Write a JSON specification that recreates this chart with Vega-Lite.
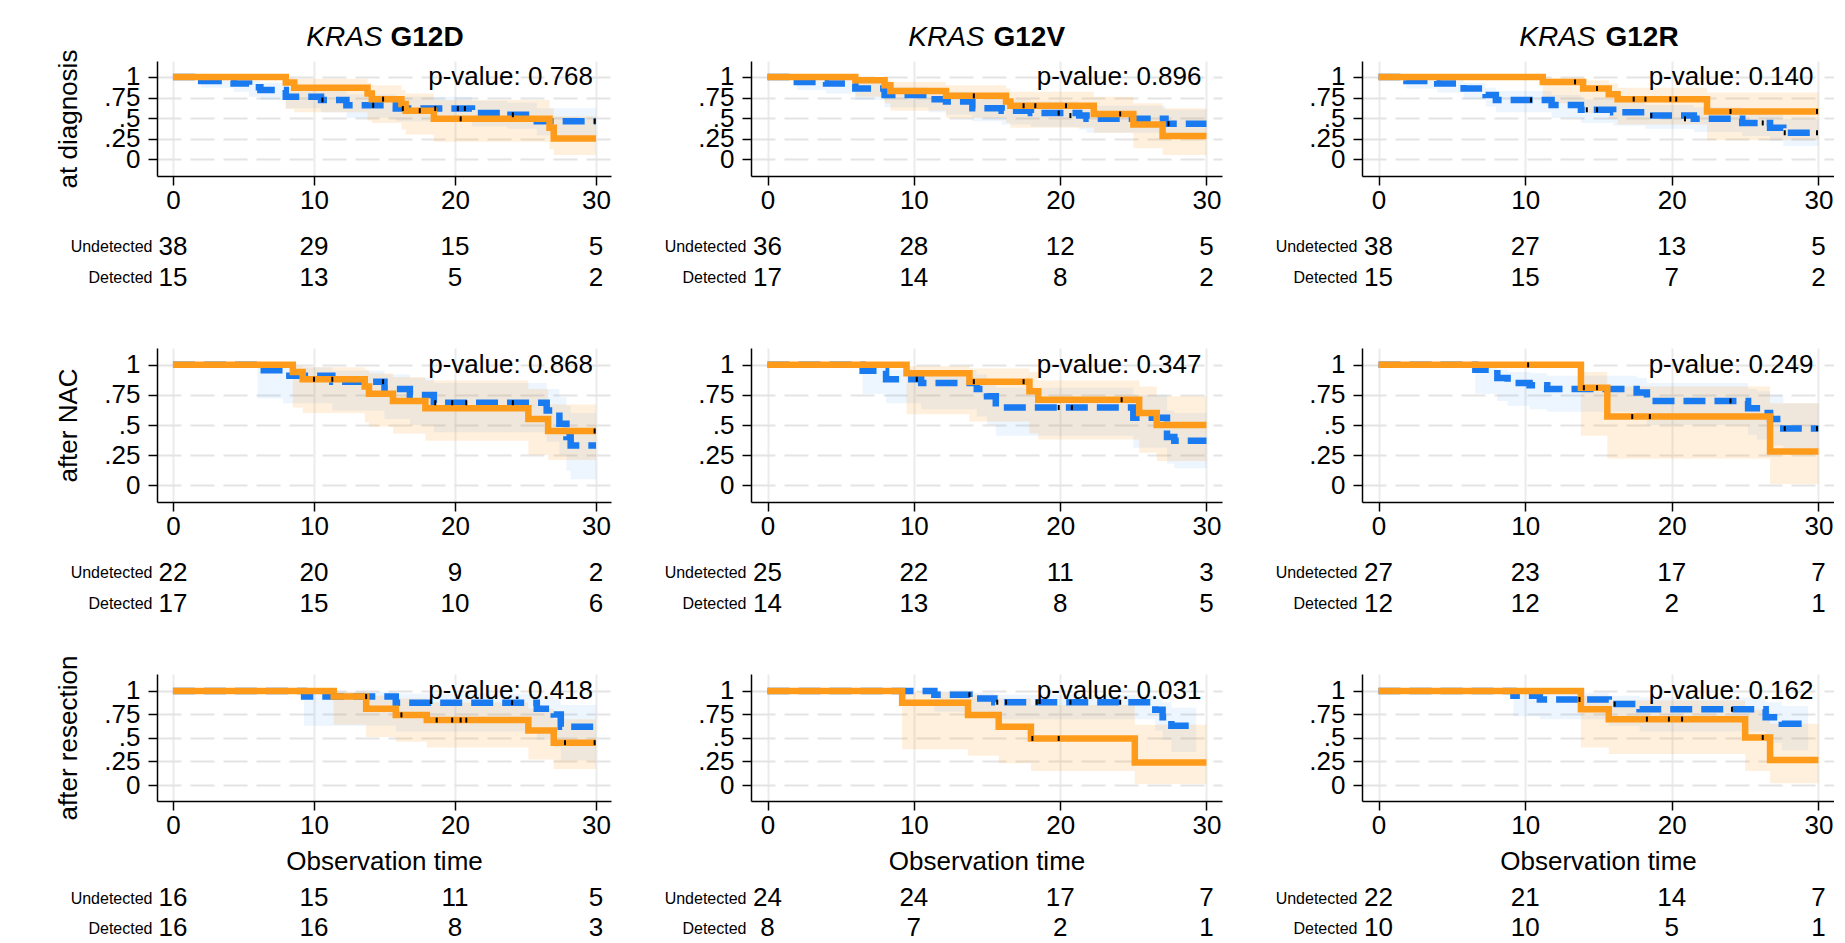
{
"$schema": "https://vega.github.io/schema/vega-lite/v6.json",
"background": "white",
"padding": {"left": 55, "top": 23, "right": 0, "bottom": 0},
"autosize": {"type": "pad"},
"config": {
  "view": {"stroke": null},
  "font": "Liberation Sans",
  "axis": {"labelFontSize": 26, "labelColor": "#000", "titleColor": "#000", "titleFontSize": 26, "titleFontWeight": "normal", "domainColor": "#000", "tickColor": "#000", "domainWidth": 1.5, "tickWidth": 1.5, "tickSize": 9, "labelFont": "Liberation Sans", "titleFont": "Liberation Sans"},
  "axisX": {"gridColor": "#EBEBEB", "gridWidth": 2, "labelPadding": 2, "titlePadding": 10},
  "axisY": {"gridColor": "#E4E4E4", "gridWidth": 2, "gridDash": [24, 9], "labelPadding": 8, "labelOverlap": false, "titlePadding": 22}
},
"datasets": {
"km": [
{"r":"A","c":"D","g":"U","t":0,"s":1,"lo":1,"hi":1},
{"r":"A","c":"D","g":"U","t":2.0,"s":0.95,"lo":0.87,"hi":0.99},
{"r":"A","c":"D","g":"U","t":4.3,"s":0.92,"lo":0.82,"hi":0.97},
{"r":"A","c":"D","g":"U","t":5.4,"s":0.875,"lo":0.76,"hi":0.95},
{"r":"A","c":"D","g":"U","t":6.2,"s":0.84,"lo":0.72,"hi":0.93},
{"r":"A","c":"D","g":"U","t":8.0,"s":0.76,"lo":0.62,"hi":0.87},
{"r":"A","c":"D","g":"U","t":10.5,"s":0.72,"lo":0.57,"hi":0.84},
{"r":"A","c":"D","g":"U","t":12.3,"s":0.655,"lo":0.50,"hi":0.79},
{"r":"A","c":"D","g":"U","t":15.8,"s":0.615,"lo":0.46,"hi":0.76},
{"r":"A","c":"D","g":"U","t":21.2,"s":0.56,"lo":0.40,"hi":0.71},
{"r":"A","c":"D","g":"U","t":23.7,"s":0.54,"lo":0.37,"hi":0.69},
{"r":"A","c":"D","g":"U","t":25.8,"s":0.46,"lo":0.29,"hi":0.62},
{"r":"A","c":"D","g":"U","t":30,"s":0.46,"lo":0.29,"hi":0.62},
{"r":"A","c":"D","g":"D","t":0,"s":1,"lo":1,"hi":1},
{"r":"A","c":"D","g":"D","t":8.0,"s":0.933,"lo":0.61,"hi":0.99},
{"r":"A","c":"D","g":"D","t":8.6,"s":0.87,"lo":0.57,"hi":0.98},
{"r":"A","c":"D","g":"D","t":13.8,"s":0.80,"lo":0.47,"hi":0.93},
{"r":"A","c":"D","g":"D","t":14.1,"s":0.73,"lo":0.44,"hi":0.90},
{"r":"A","c":"D","g":"D","t":16.2,"s":0.67,"lo":0.36,"hi":0.84},
{"r":"A","c":"D","g":"D","t":16.5,"s":0.59,"lo":0.30,"hi":0.80},
{"r":"A","c":"D","g":"D","t":18.5,"s":0.49,"lo":0.21,"hi":0.72},
{"r":"A","c":"D","g":"D","t":26.7,"s":0.38,"lo":0.12,"hi":0.62},
{"r":"A","c":"D","g":"D","t":27.0,"s":0.25,"lo":0.05,"hi":0.52},
{"r":"A","c":"D","g":"D","t":30,"s":0.25,"lo":0.05,"hi":0.52},

{"r":"A","c":"V","g":"U","t":0,"s":1,"lo":1,"hi":1},
{"r":"A","c":"V","g":"U","t":2.0,"s":0.94,"lo":0.84,"hi":0.98},
{"r":"A","c":"V","g":"U","t":4.0,"s":0.92,"lo":0.80,"hi":0.97},
{"r":"A","c":"V","g":"U","t":6.0,"s":0.86,"lo":0.72,"hi":0.93},
{"r":"A","c":"V","g":"U","t":8.0,"s":0.78,"lo":0.63,"hi":0.88},
{"r":"A","c":"V","g":"U","t":11.0,"s":0.73,"lo":0.57,"hi":0.84},
{"r":"A","c":"V","g":"U","t":12.2,"s":0.70,"lo":0.54,"hi":0.82},
{"r":"A","c":"V","g":"U","t":14.0,"s":0.62,"lo":0.46,"hi":0.75},
{"r":"A","c":"V","g":"U","t":16.0,"s":0.59,"lo":0.42,"hi":0.73},
{"r":"A","c":"V","g":"U","t":18.0,"s":0.56,"lo":0.39,"hi":0.70},
{"r":"A","c":"V","g":"U","t":21.3,"s":0.53,"lo":0.36,"hi":0.68},
{"r":"A","c":"V","g":"U","t":21.8,"s":0.49,"lo":0.32,"hi":0.65},
{"r":"A","c":"V","g":"U","t":27.2,"s":0.43,"lo":0.26,"hi":0.60},
{"r":"A","c":"V","g":"U","t":30,"s":0.43,"lo":0.26,"hi":0.60},
{"r":"A","c":"V","g":"D","t":0,"s":1,"lo":1,"hi":1},
{"r":"A","c":"V","g":"D","t":6.0,"s":0.96,"lo":0.76,"hi":0.99},
{"r":"A","c":"V","g":"D","t":8.0,"s":0.90,"lo":0.68,"hi":0.97},
{"r":"A","c":"V","g":"D","t":8.4,"s":0.83,"lo":0.59,"hi":0.94},
{"r":"A","c":"V","g":"D","t":12.2,"s":0.77,"lo":0.50,"hi":0.90},
{"r":"A","c":"V","g":"D","t":16.3,"s":0.70,"lo":0.44,"hi":0.86},
{"r":"A","c":"V","g":"D","t":16.6,"s":0.65,"lo":0.38,"hi":0.82},
{"r":"A","c":"V","g":"D","t":22.3,"s":0.55,"lo":0.32,"hi":0.76},
{"r":"A","c":"V","g":"D","t":25.0,"s":0.42,"lo":0.13,"hi":0.68},
{"r":"A","c":"V","g":"D","t":27.0,"s":0.28,"lo":0.05,"hi":0.62},
{"r":"A","c":"V","g":"D","t":30,"s":0.28,"lo":0.05,"hi":0.62},

{"r":"A","c":"R","g":"U","t":0,"s":1,"lo":1,"hi":1},
{"r":"A","c":"R","g":"U","t":1.9,"s":0.95,"lo":0.86,"hi":0.99},
{"r":"A","c":"R","g":"U","t":4.0,"s":0.92,"lo":0.81,"hi":0.97},
{"r":"A","c":"R","g":"U","t":5.8,"s":0.86,"lo":0.73,"hi":0.93},
{"r":"A","c":"R","g":"U","t":7.3,"s":0.78,"lo":0.64,"hi":0.87},
{"r":"A","c":"R","g":"U","t":8.0,"s":0.72,"lo":0.57,"hi":0.83},
{"r":"A","c":"R","g":"U","t":11.8,"s":0.66,"lo":0.50,"hi":0.78},
{"r":"A","c":"R","g":"U","t":13.8,"s":0.60,"lo":0.44,"hi":0.73},
{"r":"A","c":"R","g":"U","t":16.0,"s":0.57,"lo":0.41,"hi":0.70},
{"r":"A","c":"R","g":"U","t":18.2,"s":0.53,"lo":0.37,"hi":0.66},
{"r":"A","c":"R","g":"U","t":21.5,"s":0.49,"lo":0.33,"hi":0.63},
{"r":"A","c":"R","g":"U","t":24.8,"s":0.44,"lo":0.28,"hi":0.59},
{"r":"A","c":"R","g":"U","t":26.7,"s":0.38,"lo":0.22,"hi":0.54},
{"r":"A","c":"R","g":"U","t":27.6,"s":0.32,"lo":0.16,"hi":0.49},
{"r":"A","c":"R","g":"U","t":30,"s":0.32,"lo":0.16,"hi":0.49},
{"r":"A","c":"R","g":"D","t":0,"s":1,"lo":1,"hi":1},
{"r":"A","c":"R","g":"D","t":11.2,"s":0.94,"lo":0.68,"hi":0.99},
{"r":"A","c":"R","g":"D","t":13.95,"s":0.86,"lo":0.56,"hi":0.96},
{"r":"A","c":"R","g":"D","t":15.7,"s":0.79,"lo":0.49,"hi":0.92},
{"r":"A","c":"R","g":"D","t":16.3,"s":0.73,"lo":0.42,"hi":0.87},
{"r":"A","c":"R","g":"D","t":22.4,"s":0.58,"lo":0.23,"hi":0.81},
{"r":"A","c":"R","g":"D","t":30,"s":0.58,"lo":0.23,"hi":0.81},

{"r":"N","c":"D","g":"U","t":0,"s":1,"lo":1,"hi":1},
{"r":"N","c":"D","g":"U","t":6.0,"s":0.955,"lo":0.72,"hi":0.99},
{"r":"N","c":"D","g":"U","t":7.8,"s":0.91,"lo":0.68,"hi":0.98},
{"r":"N","c":"D","g":"U","t":11.3,"s":0.86,"lo":0.62,"hi":0.95},
{"r":"N","c":"D","g":"U","t":15.0,"s":0.80,"lo":0.55,"hi":0.92},
{"r":"N","c":"D","g":"U","t":16.8,"s":0.75,"lo":0.50,"hi":0.89},
{"r":"N","c":"D","g":"U","t":18.5,"s":0.685,"lo":0.44,"hi":0.85},
{"r":"N","c":"D","g":"U","t":26.5,"s":0.62,"lo":0.36,"hi":0.80},
{"r":"N","c":"D","g":"U","t":27.4,"s":0.51,"lo":0.25,"hi":0.73},
{"r":"N","c":"D","g":"U","t":27.9,"s":0.40,"lo":0.12,"hi":0.66},
{"r":"N","c":"D","g":"U","t":28.2,"s":0.33,"lo":0.05,"hi":0.60},
{"r":"N","c":"D","g":"U","t":30,"s":0.33,"lo":0.05,"hi":0.60},
{"r":"N","c":"D","g":"D","t":0,"s":1,"lo":1,"hi":1},
{"r":"N","c":"D","g":"D","t":8.5,"s":0.94,"lo":0.645,"hi":0.99},
{"r":"N","c":"D","g":"D","t":9.2,"s":0.88,"lo":0.60,"hi":0.98},
{"r":"N","c":"D","g":"D","t":13.6,"s":0.82,"lo":0.52,"hi":0.96},
{"r":"N","c":"D","g":"D","t":13.9,"s":0.76,"lo":0.485,"hi":0.93},
{"r":"N","c":"D","g":"D","t":15.6,"s":0.70,"lo":0.43,"hi":0.90},
{"r":"N","c":"D","g":"D","t":17.9,"s":0.64,"lo":0.37,"hi":0.87},
{"r":"N","c":"D","g":"D","t":25.2,"s":0.55,"lo":0.25,"hi":0.80},
{"r":"N","c":"D","g":"D","t":26.6,"s":0.45,"lo":0.21,"hi":0.67},
{"r":"N","c":"D","g":"D","t":30,"s":0.45,"lo":0.21,"hi":0.67},

{"r":"N","c":"V","g":"U","t":0,"s":1,"lo":1,"hi":1},
{"r":"N","c":"V","g":"U","t":6.5,"s":0.95,"lo":0.76,"hi":0.99},
{"r":"N","c":"V","g":"U","t":8.1,"s":0.88,"lo":0.68,"hi":0.96},
{"r":"N","c":"V","g":"U","t":10.5,"s":0.85,"lo":0.63,"hi":0.95},
{"r":"N","c":"V","g":"U","t":14.3,"s":0.80,"lo":0.57,"hi":0.92},
{"r":"N","c":"V","g":"U","t":15.0,"s":0.74,"lo":0.50,"hi":0.88},
{"r":"N","c":"V","g":"U","t":15.6,"s":0.645,"lo":0.41,"hi":0.81},
{"r":"N","c":"V","g":"U","t":25.0,"s":0.56,"lo":0.31,"hi":0.75},
{"r":"N","c":"V","g":"U","t":27.3,"s":0.40,"lo":0.18,"hi":0.62},
{"r":"N","c":"V","g":"U","t":27.8,"s":0.37,"lo":0.14,"hi":0.60},
{"r":"N","c":"V","g":"U","t":30,"s":0.37,"lo":0.14,"hi":0.60},
{"r":"N","c":"V","g":"D","t":0,"s":1,"lo":1,"hi":1},
{"r":"N","c":"V","g":"D","t":9.5,"s":0.93,"lo":0.59,"hi":0.99},
{"r":"N","c":"V","g":"D","t":13.8,"s":0.86,"lo":0.53,"hi":0.97},
{"r":"N","c":"V","g":"D","t":17.9,"s":0.78,"lo":0.43,"hi":0.94},
{"r":"N","c":"V","g":"D","t":18.5,"s":0.71,"lo":0.38,"hi":0.87},
{"r":"N","c":"V","g":"D","t":25.4,"s":0.60,"lo":0.27,"hi":0.82},
{"r":"N","c":"V","g":"D","t":26.6,"s":0.50,"lo":0.20,"hi":0.74},
{"r":"N","c":"V","g":"D","t":30,"s":0.50,"lo":0.20,"hi":0.74},

{"r":"N","c":"R","g":"U","t":0,"s":1,"lo":1,"hi":1},
{"r":"N","c":"R","g":"U","t":6.6,"s":0.96,"lo":0.76,"hi":0.99},
{"r":"N","c":"R","g":"U","t":8.1,"s":0.89,"lo":0.70,"hi":0.96},
{"r":"N","c":"R","g":"U","t":8.8,"s":0.85,"lo":0.66,"hi":0.94},
{"r":"N","c":"R","g":"U","t":10.3,"s":0.83,"lo":0.63,"hi":0.93},
{"r":"N","c":"R","g":"U","t":11.5,"s":0.80,"lo":0.61,"hi":0.91},
{"r":"N","c":"R","g":"U","t":17.6,"s":0.77,"lo":0.56,"hi":0.89},
{"r":"N","c":"R","g":"U","t":18.3,"s":0.70,"lo":0.50,"hi":0.85},
{"r":"N","c":"R","g":"U","t":25.2,"s":0.64,"lo":0.42,"hi":0.80},
{"r":"N","c":"R","g":"U","t":25.8,"s":0.60,"lo":0.38,"hi":0.78},
{"r":"N","c":"R","g":"U","t":26.7,"s":0.55,"lo":0.33,"hi":0.75},
{"r":"N","c":"R","g":"U","t":27.6,"s":0.47,"lo":0.25,"hi":0.68},
{"r":"N","c":"R","g":"U","t":30,"s":0.47,"lo":0.25,"hi":0.68},
{"r":"N","c":"R","g":"D","t":0,"s":1,"lo":1,"hi":1},
{"r":"N","c":"R","g":"D","t":13.8,"s":0.81,"lo":0.41,"hi":0.94},
{"r":"N","c":"R","g":"D","t":15.6,"s":0.57,"lo":0.22,"hi":0.82},
{"r":"N","c":"R","g":"D","t":26.7,"s":0.28,"lo":0.01,"hi":0.68},
{"r":"N","c":"R","g":"D","t":30,"s":0.28,"lo":0.01,"hi":0.68},

{"r":"R","c":"D","g":"U","t":0,"s":1,"lo":1,"hi":1},
{"r":"R","c":"D","g":"U","t":9.3,"s":0.94,"lo":0.63,"hi":0.99},
{"r":"R","c":"D","g":"U","t":15.8,"s":0.875,"lo":0.57,"hi":0.97},
{"r":"R","c":"D","g":"U","t":25.8,"s":0.81,"lo":0.48,"hi":0.94},
{"r":"R","c":"D","g":"U","t":27.0,"s":0.75,"lo":0.40,"hi":0.91},
{"r":"R","c":"D","g":"U","t":27.5,"s":0.62,"lo":0.26,"hi":0.85},
{"r":"R","c":"D","g":"U","t":30,"s":0.62,"lo":0.26,"hi":0.85},
{"r":"R","c":"D","g":"D","t":0,"s":1,"lo":1,"hi":1},
{"r":"R","c":"D","g":"D","t":11.4,"s":0.94,"lo":0.64,"hi":0.99},
{"r":"R","c":"D","g":"D","t":13.7,"s":0.81,"lo":0.51,"hi":0.95},
{"r":"R","c":"D","g":"D","t":15.8,"s":0.745,"lo":0.46,"hi":0.92},
{"r":"R","c":"D","g":"D","t":18.0,"s":0.69,"lo":0.40,"hi":0.88},
{"r":"R","c":"D","g":"D","t":25.2,"s":0.58,"lo":0.27,"hi":0.81},
{"r":"R","c":"D","g":"D","t":27.0,"s":0.45,"lo":0.17,"hi":0.70},
{"r":"R","c":"D","g":"D","t":30,"s":0.45,"lo":0.17,"hi":0.70},

{"r":"R","c":"V","g":"U","t":0,"s":1,"lo":1,"hi":1},
{"r":"R","c":"V","g":"U","t":11.4,"s":0.96,"lo":0.78,"hi":0.99},
{"r":"R","c":"V","g":"U","t":13.8,"s":0.92,"lo":0.74,"hi":0.98},
{"r":"R","c":"V","g":"U","t":15.5,"s":0.88,"lo":0.70,"hi":0.96},
{"r":"R","c":"V","g":"U","t":26.5,"s":0.80,"lo":0.58,"hi":0.92},
{"r":"R","c":"V","g":"U","t":27.0,"s":0.72,"lo":0.48,"hi":0.88},
{"r":"R","c":"V","g":"U","t":27.6,"s":0.63,"lo":0.35,"hi":0.82},
{"r":"R","c":"V","g":"U","t":29.3,"s":0.63,"lo":0.35,"hi":0.82},
{"r":"R","c":"V","g":"D","t":0,"s":1,"lo":1,"hi":1},
{"r":"R","c":"V","g":"D","t":9.2,"s":0.875,"lo":0.38,"hi":0.99},
{"r":"R","c":"V","g":"D","t":13.7,"s":0.745,"lo":0.31,"hi":0.96},
{"r":"R","c":"V","g":"D","t":15.8,"s":0.62,"lo":0.23,"hi":0.92},
{"r":"R","c":"V","g":"D","t":18.0,"s":0.495,"lo":0.15,"hi":0.85},
{"r":"R","c":"V","g":"D","t":25.1,"s":0.24,"lo":0.01,"hi":0.64},
{"r":"R","c":"V","g":"D","t":30,"s":0.24,"lo":0.01,"hi":0.64},

{"r":"R","c":"R","g":"U","t":0,"s":1,"lo":1,"hi":1},
{"r":"R","c":"R","g":"U","t":9.2,"s":0.95,"lo":0.73,"hi":0.99},
{"r":"R","c":"R","g":"U","t":11.0,"s":0.91,"lo":0.70,"hi":0.98},
{"r":"R","c":"R","g":"U","t":15.7,"s":0.86,"lo":0.63,"hi":0.95},
{"r":"R","c":"R","g":"U","t":17.8,"s":0.805,"lo":0.57,"hi":0.93},
{"r":"R","c":"R","g":"U","t":26.4,"s":0.72,"lo":0.45,"hi":0.88},
{"r":"R","c":"R","g":"U","t":27.5,"s":0.65,"lo":0.37,"hi":0.84},
{"r":"R","c":"R","g":"U","t":29.3,"s":0.65,"lo":0.37,"hi":0.84},
{"r":"R","c":"R","g":"D","t":0,"s":1,"lo":1,"hi":1},
{"r":"R","c":"R","g":"D","t":13.8,"s":0.805,"lo":0.40,"hi":0.95},
{"r":"R","c":"R","g":"D","t":15.7,"s":0.70,"lo":0.33,"hi":0.90},
{"r":"R","c":"R","g":"D","t":25.0,"s":0.505,"lo":0.15,"hi":0.80},
{"r":"R","c":"R","g":"D","t":26.7,"s":0.265,"lo":0.02,"hi":0.65},
{"r":"R","c":"R","g":"D","t":30,"s":0.265,"lo":0.02,"hi":0.65}
],
"cens": [
{"r":"A","c":"D","t":14.9,"s":0.73},{"r":"A","c":"D","t":17.5,"s":0.59},{"r":"A","c":"D","t":20.4,"s":0.49},{"r":"A","c":"D","t":10.6,"s":0.72},{"r":"A","c":"D","t":14.2,"s":0.655},{"r":"A","c":"D","t":16.3,"s":0.615},{"r":"A","c":"D","t":18.6,"s":0.615},{"r":"A","c":"D","t":20.2,"s":0.615},{"r":"A","c":"D","t":20.7,"s":0.615},{"r":"A","c":"D","t":24.1,"s":0.54},{"r":"A","c":"D","t":29.9,"s":0.46},
{"r":"A","c":"V","t":14.1,"s":0.77},{"r":"A","c":"V","t":17.5,"s":0.65},{"r":"A","c":"V","t":18.3,"s":0.65},{"r":"A","c":"V","t":20.4,"s":0.65},{"r":"A","c":"V","t":24.1,"s":0.55},{"r":"A","c":"V","t":19.9,"s":0.56},{"r":"A","c":"V","t":20.7,"s":0.53},{"r":"A","c":"V","t":27.4,"s":0.43},
{"r":"A","c":"R","t":13.4,"s":0.94},{"r":"A","c":"R","t":14.9,"s":0.86},{"r":"A","c":"R","t":17.4,"s":0.73},{"r":"A","c":"R","t":18.2,"s":0.73},{"r":"A","c":"R","t":19.9,"s":0.73},{"r":"A","c":"R","t":20.3,"s":0.73},{"r":"A","c":"R","t":24.0,"s":0.58},{"r":"A","c":"R","t":29.9,"s":0.58},{"r":"A","c":"R","t":10.4,"s":0.72},{"r":"A","c":"R","t":14.2,"s":0.60},{"r":"A","c":"R","t":14.9,"s":0.60},{"r":"A","c":"R","t":18.6,"s":0.53},{"r":"A","c":"R","t":20.9,"s":0.49},{"r":"A","c":"R","t":26.2,"s":0.44},{"r":"A","c":"R","t":27.7,"s":0.32},{"r":"A","c":"R","t":29.9,"s":0.32},
{"r":"N","c":"D","t":10.0,"s":0.88},{"r":"N","c":"D","t":11.3,"s":0.88},{"r":"N","c":"D","t":14.9,"s":0.86},{"r":"N","c":"D","t":18.6,"s":0.685},{"r":"N","c":"D","t":19.8,"s":0.685},{"r":"N","c":"D","t":20.8,"s":0.685},{"r":"N","c":"D","t":24.1,"s":0.685},{"r":"N","c":"D","t":29.9,"s":0.45},
{"r":"N","c":"V","t":10.2,"s":0.88},{"r":"N","c":"V","t":14.1,"s":0.86},{"r":"N","c":"V","t":17.5,"s":0.86},{"r":"N","c":"V","t":19.9,"s":0.645},{"r":"N","c":"V","t":20.8,"s":0.645},{"r":"N","c":"V","t":24.2,"s":0.71},
{"r":"N","c":"R","t":10.2,"s":1},{"r":"N","c":"R","t":14.0,"s":0.81},{"r":"N","c":"R","t":14.9,"s":0.81},{"r":"N","c":"R","t":17.3,"s":0.57},{"r":"N","c":"R","t":18.5,"s":0.57},{"r":"N","c":"R","t":24.0,"s":0.70},{"r":"N","c":"R","t":27.7,"s":0.47},{"r":"N","c":"R","t":29.9,"s":0.47},
{"r":"R","c":"D","t":13.7,"s":0.94},{"r":"R","c":"D","t":16.2,"s":0.745},{"r":"R","c":"D","t":18.7,"s":0.69},{"r":"R","c":"D","t":19.8,"s":0.69},{"r":"R","c":"D","t":20.4,"s":0.69},{"r":"R","c":"D","t":20.8,"s":0.69},{"r":"R","c":"D","t":24.05,"s":0.875},{"r":"R","c":"D","t":27.8,"s":0.45},{"r":"R","c":"D","t":29.9,"s":0.45},
{"r":"R","c":"V","t":13.8,"s":0.96},{"r":"R","c":"V","t":15.7,"s":0.88},{"r":"R","c":"V","t":16.3,"s":0.88},{"r":"R","c":"V","t":18.1,"s":0.495},{"r":"R","c":"V","t":18.4,"s":0.88},{"r":"R","c":"V","t":19.9,"s":0.495},{"r":"R","c":"V","t":20.7,"s":0.88},{"r":"R","c":"V","t":24.1,"s":0.88},
{"r":"R","c":"R","t":13.7,"s":0.91},{"r":"R","c":"R","t":16.1,"s":0.86},{"r":"R","c":"R","t":18.3,"s":0.70},{"r":"R","c":"R","t":19.8,"s":0.70},{"r":"R","c":"R","t":20.7,"s":0.70},{"r":"R","c":"R","t":24.1,"s":0.805},{"r":"R","c":"R","t":26.2,"s":0.505}
],
"risk": [
{"r":"A","c":"D","g":"Undetected","t":0,"n":38},{"r":"A","c":"D","g":"Undetected","t":10,"n":29},{"r":"A","c":"D","g":"Undetected","t":20,"n":15},{"r":"A","c":"D","g":"Undetected","t":30,"n":5},
{"r":"A","c":"D","g":"Detected","t":0,"n":15},{"r":"A","c":"D","g":"Detected","t":10,"n":13},{"r":"A","c":"D","g":"Detected","t":20,"n":5},{"r":"A","c":"D","g":"Detected","t":30,"n":2},
{"r":"A","c":"V","g":"Undetected","t":0,"n":36},{"r":"A","c":"V","g":"Undetected","t":10,"n":28},{"r":"A","c":"V","g":"Undetected","t":20,"n":12},{"r":"A","c":"V","g":"Undetected","t":30,"n":5},
{"r":"A","c":"V","g":"Detected","t":0,"n":17},{"r":"A","c":"V","g":"Detected","t":10,"n":14},{"r":"A","c":"V","g":"Detected","t":20,"n":8},{"r":"A","c":"V","g":"Detected","t":30,"n":2},
{"r":"A","c":"R","g":"Undetected","t":0,"n":38},{"r":"A","c":"R","g":"Undetected","t":10,"n":27},{"r":"A","c":"R","g":"Undetected","t":20,"n":13},{"r":"A","c":"R","g":"Undetected","t":30,"n":5},
{"r":"A","c":"R","g":"Detected","t":0,"n":15},{"r":"A","c":"R","g":"Detected","t":10,"n":15},{"r":"A","c":"R","g":"Detected","t":20,"n":7},{"r":"A","c":"R","g":"Detected","t":30,"n":2},
{"r":"N","c":"D","g":"Undetected","t":0,"n":22},{"r":"N","c":"D","g":"Undetected","t":10,"n":20},{"r":"N","c":"D","g":"Undetected","t":20,"n":9},{"r":"N","c":"D","g":"Undetected","t":30,"n":2},
{"r":"N","c":"D","g":"Detected","t":0,"n":17},{"r":"N","c":"D","g":"Detected","t":10,"n":15},{"r":"N","c":"D","g":"Detected","t":20,"n":10},{"r":"N","c":"D","g":"Detected","t":30,"n":6},
{"r":"N","c":"V","g":"Undetected","t":0,"n":25},{"r":"N","c":"V","g":"Undetected","t":10,"n":22},{"r":"N","c":"V","g":"Undetected","t":20,"n":11},{"r":"N","c":"V","g":"Undetected","t":30,"n":3},
{"r":"N","c":"V","g":"Detected","t":0,"n":14},{"r":"N","c":"V","g":"Detected","t":10,"n":13},{"r":"N","c":"V","g":"Detected","t":20,"n":8},{"r":"N","c":"V","g":"Detected","t":30,"n":5},
{"r":"N","c":"R","g":"Undetected","t":0,"n":27},{"r":"N","c":"R","g":"Undetected","t":10,"n":23},{"r":"N","c":"R","g":"Undetected","t":20,"n":17},{"r":"N","c":"R","g":"Undetected","t":30,"n":7},
{"r":"N","c":"R","g":"Detected","t":0,"n":12},{"r":"N","c":"R","g":"Detected","t":10,"n":12},{"r":"N","c":"R","g":"Detected","t":20,"n":2},{"r":"N","c":"R","g":"Detected","t":30,"n":1},
{"r":"R","c":"D","g":"Undetected","t":0,"n":16},{"r":"R","c":"D","g":"Undetected","t":10,"n":15},{"r":"R","c":"D","g":"Undetected","t":20,"n":11},{"r":"R","c":"D","g":"Undetected","t":30,"n":5},
{"r":"R","c":"D","g":"Detected","t":0,"n":16},{"r":"R","c":"D","g":"Detected","t":10,"n":16},{"r":"R","c":"D","g":"Detected","t":20,"n":8},{"r":"R","c":"D","g":"Detected","t":30,"n":3},
{"r":"R","c":"V","g":"Undetected","t":0,"n":24},{"r":"R","c":"V","g":"Undetected","t":10,"n":24},{"r":"R","c":"V","g":"Undetected","t":20,"n":17},{"r":"R","c":"V","g":"Undetected","t":30,"n":7},
{"r":"R","c":"V","g":"Detected","t":0,"n":8},{"r":"R","c":"V","g":"Detected","t":10,"n":7},{"r":"R","c":"V","g":"Detected","t":20,"n":2},{"r":"R","c":"V","g":"Detected","t":30,"n":1},
{"r":"R","c":"R","g":"Undetected","t":0,"n":22},{"r":"R","c":"R","g":"Undetected","t":10,"n":21},{"r":"R","c":"R","g":"Undetected","t":20,"n":14},{"r":"R","c":"R","g":"Undetected","t":30,"n":7},
{"r":"R","c":"R","g":"Detected","t":0,"n":10},{"r":"R","c":"R","g":"Detected","t":10,"n":10},{"r":"R","c":"R","g":"Detected","t":20,"n":5},{"r":"R","c":"R","g":"Detected","t":30,"n":1}
],
"pv": [
{"r":"A","c":"D","p":"p-value: 0.768"},{"r":"A","c":"V","p":"p-value: 0.896"},{"r":"A","c":"R","p":"p-value: 0.140"},
{"r":"N","c":"D","p":"p-value: 0.868"},{"r":"N","c":"V","p":"p-value: 0.347"},{"r":"N","c":"R","p":"p-value: 0.249"},
{"r":"R","c":"D","p":"p-value: 0.418"},{"r":"R","c":"V","p":"p-value: 0.031"},{"r":"R","c":"R","p":"p-value: 0.162"}
]
},
"columns": 3,
"spacing": {"row": 55, "column": 140},
"bounds": "flush",
"align": "each",
"concat": [
{"width": 454, "height": 115, "data": {"name": "km"}, "resolve": {"axis": {"x": "independent", "y": "independent"}},
 "layer": [
  {"transform": [{"filter": "datum.r=='A'&&datum.c=='D'&&datum.g=='U'"}], "mark": {"type": "area", "interpolate": "step-after", "color": "#1A7AF0", "opacity": 0.08},
   "encoding": {"x": {"field": "t", "type": "quantitative", "scale": {"domain": [-1.13, 31.06], "nice": false, "zero": false}, "axis": {"values": [0, 10, 20, 30], "format": "d", "title": null}},
    "y": {"field": "lo", "type": "quantitative", "scale": {"domain": [-0.207, 1.195], "nice": false, "zero": false}, "axis": {"values": [0, 0.25, 0.5, 0.75, 1], "labelExpr": "datum.value == 0 ? '0' : datum.value == 1 ? '1' : slice(format(datum.value, '.2~f'), 1)", "title": "at diagnosis"}},
    "y2": {"field": "hi"}}},
  {"transform": [{"filter": "datum.r=='A'&&datum.c=='D'&&datum.g=='D'"}], "mark": {"type": "area", "interpolate": "step-after", "color": "#FF9B1A", "opacity": 0.15},
   "encoding": {"x": {"field": "t", "type": "quantitative", "scale": {"domain": [-1.13, 31.06], "nice": false, "zero": false}, "axis": null},
    "y": {"field": "lo", "type": "quantitative", "scale": {"domain": [-0.207, 1.195], "nice": false, "zero": false}, "axis": null}, "y2": {"field": "hi"}}},
  {"transform": [{"filter": "datum.r=='A'&&datum.c=='D'&&datum.g=='U'"}], "mark": {"type": "line", "interpolate": "step-after", "color": "#1A7AF0", "strokeWidth": 6.5, "strokeDash": [22, 9]},
   "encoding": {"x": {"field": "t", "type": "quantitative", "scale": {"domain": [-1.13, 31.06], "nice": false, "zero": false}, "axis": {"orient": "top", "title": "KRAS", "domain": false, "ticks": false, "labels": false, "grid": false, "titleFontSize": 28, "titleFontStyle": "italic", "titleAlign": "right", "titleBaseline": "middle", "titleX": 225, "titleY": -24}},
    "y": {"field": "s", "type": "quantitative", "scale": {"domain": [-0.207, 1.195], "nice": false, "zero": false}, "axis": null}}},
  {"transform": [{"filter": "datum.r=='A'&&datum.c=='D'&&datum.g=='D'"}], "mark": {"type": "line", "interpolate": "step-after", "color": "#FF9B1A", "strokeWidth": 6.5},
   "encoding": {"x": {"field": "t", "type": "quantitative", "scale": {"domain": [-1.13, 31.06], "nice": false, "zero": false}, "axis": {"orient": "top", "title": "G12D", "domain": false, "ticks": false, "labels": false, "grid": false, "titleFontSize": 28, "titleFontWeight": "bold", "titleAlign": "left", "titleBaseline": "middle", "titleX": 233, "titleY": -24}},
    "y": {"field": "s", "type": "quantitative", "scale": {"domain": [-0.207, 1.195], "nice": false, "zero": false}, "axis": null}}},
  {"data": {"name": "cens"}, "transform": [{"filter": "datum.r=='A'&&datum.c=='D'"}], "mark": {"type": "tick", "orient": "vertical", "size": 5, "thickness": 2, "color": "#000", "opacity": 1},
   "encoding": {"x": {"field": "t", "type": "quantitative", "scale": {"domain": [-1.13, 31.06], "nice": false, "zero": false}, "axis": null}, "y": {"field": "s", "type": "quantitative", "scale": {"domain": [-0.207, 1.195], "nice": false, "zero": false}, "axis": null}}},
  {"data": {"name": "pv"}, "transform": [{"filter": "datum.r=='A'&&datum.c=='D'"}], "mark": {"type": "text", "fontSize": 26, "align": "right", "baseline": "middle", "dx": -3, "color": "#000"},
   "encoding": {"x": {"datum": 30, "type": "quantitative", "scale": {"domain": [-1.13, 31.06], "nice": false, "zero": false}, "axis": null}, "y": {"datum": 1, "type": "quantitative", "scale": {"domain": [-0.207, 1.195], "nice": false, "zero": false}, "axis": null}, "text": {"field": "p"}}}
 ]},
{"width": 471, "height": 115, "data": {"name": "km"}, "resolve": {"axis": {"x": "independent", "y": "independent"}},
 "layer": [
  {"transform": [{"filter": "datum.r=='A'&&datum.c=='V'&&datum.g=='U'"}], "mark": {"type": "area", "interpolate": "step-after", "color": "#1A7AF0", "opacity": 0.08},
   "encoding": {"x": {"field": "t", "type": "quantitative", "scale": {"domain": [-1.13, 31.06], "nice": false, "zero": false}, "axis": {"values": [0, 10, 20, 30], "format": "d", "title": null}},
    "y": {"field": "lo", "type": "quantitative", "scale": {"domain": [-0.207, 1.195], "nice": false, "zero": false}, "axis": {"values": [0, 0.25, 0.5, 0.75, 1], "labelExpr": "datum.value == 0 ? '0' : datum.value == 1 ? '1' : slice(format(datum.value, '.2~f'), 1)", "title": null}},
    "y2": {"field": "hi"}}},
  {"transform": [{"filter": "datum.r=='A'&&datum.c=='V'&&datum.g=='D'"}], "mark": {"type": "area", "interpolate": "step-after", "color": "#FF9B1A", "opacity": 0.15},
   "encoding": {"x": {"field": "t", "type": "quantitative", "scale": {"domain": [-1.13, 31.06], "nice": false, "zero": false}, "axis": null},
    "y": {"field": "lo", "type": "quantitative", "scale": {"domain": [-0.207, 1.195], "nice": false, "zero": false}, "axis": null}, "y2": {"field": "hi"}}},
  {"transform": [{"filter": "datum.r=='A'&&datum.c=='V'&&datum.g=='U'"}], "mark": {"type": "line", "interpolate": "step-after", "color": "#1A7AF0", "strokeWidth": 6.5, "strokeDash": [22, 9]},
   "encoding": {"x": {"field": "t", "type": "quantitative", "scale": {"domain": [-1.13, 31.06], "nice": false, "zero": false}, "axis": {"orient": "top", "title": "KRAS", "domain": false, "ticks": false, "labels": false, "grid": false, "titleFontSize": 28, "titleFontStyle": "italic", "titleAlign": "right", "titleBaseline": "middle", "titleX": 233, "titleY": -24}},
    "y": {"field": "s", "type": "quantitative", "scale": {"domain": [-0.207, 1.195], "nice": false, "zero": false}, "axis": null}}},
  {"transform": [{"filter": "datum.r=='A'&&datum.c=='V'&&datum.g=='D'"}], "mark": {"type": "line", "interpolate": "step-after", "color": "#FF9B1A", "strokeWidth": 6.5},
   "encoding": {"x": {"field": "t", "type": "quantitative", "scale": {"domain": [-1.13, 31.06], "nice": false, "zero": false}, "axis": {"orient": "top", "title": "G12V", "domain": false, "ticks": false, "labels": false, "grid": false, "titleFontSize": 28, "titleFontWeight": "bold", "titleAlign": "left", "titleBaseline": "middle", "titleX": 242, "titleY": -24}},
    "y": {"field": "s", "type": "quantitative", "scale": {"domain": [-0.207, 1.195], "nice": false, "zero": false}, "axis": null}}},
  {"data": {"name": "cens"}, "transform": [{"filter": "datum.r=='A'&&datum.c=='V'"}], "mark": {"type": "tick", "orient": "vertical", "size": 5, "thickness": 2, "color": "#000", "opacity": 1},
   "encoding": {"x": {"field": "t", "type": "quantitative", "scale": {"domain": [-1.13, 31.06], "nice": false, "zero": false}, "axis": null}, "y": {"field": "s", "type": "quantitative", "scale": {"domain": [-0.207, 1.195], "nice": false, "zero": false}, "axis": null}}},
  {"data": {"name": "pv"}, "transform": [{"filter": "datum.r=='A'&&datum.c=='V'"}], "mark": {"type": "text", "fontSize": 26, "align": "right", "baseline": "middle", "dx": -5, "color": "#000"},
   "encoding": {"x": {"datum": 30, "type": "quantitative", "scale": {"domain": [-1.13, 31.06], "nice": false, "zero": false}, "axis": null}, "y": {"datum": 1, "type": "quantitative", "scale": {"domain": [-0.207, 1.195], "nice": false, "zero": false}, "axis": null}, "text": {"field": "p"}}}
 ]},
{"width": 472, "height": 115, "data": {"name": "km"}, "resolve": {"axis": {"x": "independent", "y": "independent"}},
 "layer": [
  {"transform": [{"filter": "datum.r=='A'&&datum.c=='R'&&datum.g=='U'"}], "mark": {"type": "area", "interpolate": "step-after", "color": "#1A7AF0", "opacity": 0.08},
   "encoding": {"x": {"field": "t", "type": "quantitative", "scale": {"domain": [-1.13, 31.06], "nice": false, "zero": false}, "axis": {"values": [0, 10, 20, 30], "format": "d", "title": null}},
    "y": {"field": "lo", "type": "quantitative", "scale": {"domain": [-0.207, 1.195], "nice": false, "zero": false}, "axis": {"values": [0, 0.25, 0.5, 0.75, 1], "labelExpr": "datum.value == 0 ? '0' : datum.value == 1 ? '1' : slice(format(datum.value, '.2~f'), 1)", "title": null}},
    "y2": {"field": "hi"}}},
  {"transform": [{"filter": "datum.r=='A'&&datum.c=='R'&&datum.g=='D'"}], "mark": {"type": "area", "interpolate": "step-after", "color": "#FF9B1A", "opacity": 0.15},
   "encoding": {"x": {"field": "t", "type": "quantitative", "scale": {"domain": [-1.13, 31.06], "nice": false, "zero": false}, "axis": null},
    "y": {"field": "lo", "type": "quantitative", "scale": {"domain": [-0.207, 1.195], "nice": false, "zero": false}, "axis": null}, "y2": {"field": "hi"}}},
  {"transform": [{"filter": "datum.r=='A'&&datum.c=='R'&&datum.g=='U'"}], "mark": {"type": "line", "interpolate": "step-after", "color": "#1A7AF0", "strokeWidth": 6.5, "strokeDash": [22, 9]},
   "encoding": {"x": {"field": "t", "type": "quantitative", "scale": {"domain": [-1.13, 31.06], "nice": false, "zero": false}, "axis": {"orient": "top", "title": "KRAS", "domain": false, "ticks": false, "labels": false, "grid": false, "titleFontSize": 28, "titleFontStyle": "italic", "titleAlign": "right", "titleBaseline": "middle", "titleX": 233, "titleY": -24}},
    "y": {"field": "s", "type": "quantitative", "scale": {"domain": [-0.207, 1.195], "nice": false, "zero": false}, "axis": null}}},
  {"transform": [{"filter": "datum.r=='A'&&datum.c=='R'&&datum.g=='D'"}], "mark": {"type": "line", "interpolate": "step-after", "color": "#FF9B1A", "strokeWidth": 6.5},
   "encoding": {"x": {"field": "t", "type": "quantitative", "scale": {"domain": [-1.13, 31.06], "nice": false, "zero": false}, "axis": {"orient": "top", "title": "G12R", "domain": false, "ticks": false, "labels": false, "grid": false, "titleFontSize": 28, "titleFontWeight": "bold", "titleAlign": "left", "titleBaseline": "middle", "titleX": 243, "titleY": -24}},
    "y": {"field": "s", "type": "quantitative", "scale": {"domain": [-0.207, 1.195], "nice": false, "zero": false}, "axis": null}}},
  {"data": {"name": "cens"}, "transform": [{"filter": "datum.r=='A'&&datum.c=='R'"}], "mark": {"type": "tick", "orient": "vertical", "size": 5, "thickness": 2, "color": "#000", "opacity": 1},
   "encoding": {"x": {"field": "t", "type": "quantitative", "scale": {"domain": [-1.13, 31.06], "nice": false, "zero": false}, "axis": null}, "y": {"field": "s", "type": "quantitative", "scale": {"domain": [-0.207, 1.195], "nice": false, "zero": false}, "axis": null}}},
  {"data": {"name": "pv"}, "transform": [{"filter": "datum.r=='A'&&datum.c=='R'"}], "mark": {"type": "text", "fontSize": 26, "align": "right", "baseline": "middle", "dx": -5, "color": "#000"},
   "encoding": {"x": {"datum": 30, "type": "quantitative", "scale": {"domain": [-1.13, 31.06], "nice": false, "zero": false}, "axis": null}, "y": {"datum": 1, "type": "quantitative", "scale": {"domain": [-0.207, 1.195], "nice": false, "zero": false}, "axis": null}, "text": {"field": "p"}}}
 ]},

{"width": 454, "height": 62, "data": {"name": "risk"}, "transform": [{"filter": "datum.r=='A'&&datum.c=='D'"}], "mark": {"type": "text", "fontSize": 26, "color": "#000"},
 "encoding": {"x": {"field": "t", "type": "quantitative", "scale": {"domain": [-1.13, 31.06], "nice": false, "zero": false}, "axis": null},
  "y": {"field": "g", "type": "nominal", "sort": ["Undetected", "Detected"], "scale": {"type": "point", "padding": 0.5}, "axis": {"domain": false, "ticks": false, "grid": false, "title": null, "labelFontSize": 16, "labelPadding": 5}},
  "text": {"field": "n"}}},
{"width": 471, "height": 62, "data": {"name": "risk"}, "transform": [{"filter": "datum.r=='A'&&datum.c=='V'"}], "mark": {"type": "text", "fontSize": 26, "color": "#000"},
 "encoding": {"x": {"field": "t", "type": "quantitative", "scale": {"domain": [-1.13, 31.06], "nice": false, "zero": false}, "axis": null},
  "y": {"field": "g", "type": "nominal", "sort": ["Undetected", "Detected"], "scale": {"type": "point", "padding": 0.5}, "axis": {"domain": false, "ticks": false, "grid": false, "title": null, "labelFontSize": 16, "labelPadding": 5}},
  "text": {"field": "n"}}},
{"width": 472, "height": 62, "data": {"name": "risk"}, "transform": [{"filter": "datum.r=='A'&&datum.c=='R'"}], "mark": {"type": "text", "fontSize": 26, "color": "#000"},
 "encoding": {"x": {"field": "t", "type": "quantitative", "scale": {"domain": [-1.13, 31.06], "nice": false, "zero": false}, "axis": null},
  "y": {"field": "g", "type": "nominal", "sort": ["Undetected", "Detected"], "scale": {"type": "point", "padding": 0.5}, "axis": {"domain": false, "ticks": false, "grid": false, "title": null, "labelFontSize": 16, "labelPadding": 5}},
  "text": {"field": "n"}}},

{"width": 454, "height": 154, "data": {"name": "km"}, "resolve": {"axis": {"x": "independent", "y": "independent"}},
 "layer": [
  {"transform": [{"filter": "datum.r=='N'&&datum.c=='D'&&datum.g=='U'"}], "mark": {"type": "area", "interpolate": "step-after", "color": "#1A7AF0", "opacity": 0.08},
   "encoding": {"x": {"field": "t", "type": "quantitative", "scale": {"domain": [-1.13, 31.06], "nice": false, "zero": false}, "axis": {"values": [0, 10, 20, 30], "format": "d", "title": null}},
    "y": {"field": "lo", "type": "quantitative", "scale": {"domain": [-0.14, 1.14], "nice": false, "zero": false}, "axis": {"values": [0, 0.25, 0.5, 0.75, 1], "labelExpr": "datum.value == 0 ? '0' : datum.value == 1 ? '1' : slice(format(datum.value, '.2~f'), 1)", "title": "after NAC"}},
    "y2": {"field": "hi"}}},
  {"transform": [{"filter": "datum.r=='N'&&datum.c=='D'&&datum.g=='D'"}], "mark": {"type": "area", "interpolate": "step-after", "color": "#FF9B1A", "opacity": 0.15},
   "encoding": {"x": {"field": "t", "type": "quantitative", "scale": {"domain": [-1.13, 31.06], "nice": false, "zero": false}, "axis": null},
    "y": {"field": "lo", "type": "quantitative", "scale": {"domain": [-0.14, 1.14], "nice": false, "zero": false}, "axis": null}, "y2": {"field": "hi"}}},
  {"transform": [{"filter": "datum.r=='N'&&datum.c=='D'&&datum.g=='U'"}], "mark": {"type": "line", "interpolate": "step-after", "color": "#1A7AF0", "strokeWidth": 6.5, "strokeDash": [22, 9]},
   "encoding": {"x": {"field": "t", "type": "quantitative", "scale": {"domain": [-1.13, 31.06], "nice": false, "zero": false}, "axis": null},
    "y": {"field": "s", "type": "quantitative", "scale": {"domain": [-0.14, 1.14], "nice": false, "zero": false}, "axis": null}}},
  {"transform": [{"filter": "datum.r=='N'&&datum.c=='D'&&datum.g=='D'"}], "mark": {"type": "line", "interpolate": "step-after", "color": "#FF9B1A", "strokeWidth": 6.5},
   "encoding": {"x": {"field": "t", "type": "quantitative", "scale": {"domain": [-1.13, 31.06], "nice": false, "zero": false}, "axis": null},
    "y": {"field": "s", "type": "quantitative", "scale": {"domain": [-0.14, 1.14], "nice": false, "zero": false}, "axis": null}}},
  {"data": {"name": "cens"}, "transform": [{"filter": "datum.r=='N'&&datum.c=='D'"}], "mark": {"type": "tick", "orient": "vertical", "size": 5, "thickness": 2, "color": "#000", "opacity": 1},
   "encoding": {"x": {"field": "t", "type": "quantitative", "scale": {"domain": [-1.13, 31.06], "nice": false, "zero": false}, "axis": null}, "y": {"field": "s", "type": "quantitative", "scale": {"domain": [-0.14, 1.14], "nice": false, "zero": false}, "axis": null}}},
  {"data": {"name": "pv"}, "transform": [{"filter": "datum.r=='N'&&datum.c=='D'"}], "mark": {"type": "text", "fontSize": 26, "align": "right", "baseline": "middle", "dx": -3, "color": "#000"},
   "encoding": {"x": {"datum": 30, "type": "quantitative", "scale": {"domain": [-1.13, 31.06], "nice": false, "zero": false}, "axis": null}, "y": {"datum": 1, "type": "quantitative", "scale": {"domain": [-0.14, 1.14], "nice": false, "zero": false}, "axis": null}, "text": {"field": "p"}}}
 ]},
{"width": 471, "height": 154, "data": {"name": "km"}, "resolve": {"axis": {"x": "independent", "y": "independent"}},
 "layer": [
  {"transform": [{"filter": "datum.r=='N'&&datum.c=='V'&&datum.g=='U'"}], "mark": {"type": "area", "interpolate": "step-after", "color": "#1A7AF0", "opacity": 0.08},
   "encoding": {"x": {"field": "t", "type": "quantitative", "scale": {"domain": [-1.13, 31.06], "nice": false, "zero": false}, "axis": {"values": [0, 10, 20, 30], "format": "d", "title": null}},
    "y": {"field": "lo", "type": "quantitative", "scale": {"domain": [-0.14, 1.14], "nice": false, "zero": false}, "axis": {"values": [0, 0.25, 0.5, 0.75, 1], "labelExpr": "datum.value == 0 ? '0' : datum.value == 1 ? '1' : slice(format(datum.value, '.2~f'), 1)", "title": null}},
    "y2": {"field": "hi"}}},
  {"transform": [{"filter": "datum.r=='N'&&datum.c=='V'&&datum.g=='D'"}], "mark": {"type": "area", "interpolate": "step-after", "color": "#FF9B1A", "opacity": 0.15},
   "encoding": {"x": {"field": "t", "type": "quantitative", "scale": {"domain": [-1.13, 31.06], "nice": false, "zero": false}, "axis": null},
    "y": {"field": "lo", "type": "quantitative", "scale": {"domain": [-0.14, 1.14], "nice": false, "zero": false}, "axis": null}, "y2": {"field": "hi"}}},
  {"transform": [{"filter": "datum.r=='N'&&datum.c=='V'&&datum.g=='U'"}], "mark": {"type": "line", "interpolate": "step-after", "color": "#1A7AF0", "strokeWidth": 6.5, "strokeDash": [22, 9]},
   "encoding": {"x": {"field": "t", "type": "quantitative", "scale": {"domain": [-1.13, 31.06], "nice": false, "zero": false}, "axis": null},
    "y": {"field": "s", "type": "quantitative", "scale": {"domain": [-0.14, 1.14], "nice": false, "zero": false}, "axis": null}}},
  {"transform": [{"filter": "datum.r=='N'&&datum.c=='V'&&datum.g=='D'"}], "mark": {"type": "line", "interpolate": "step-after", "color": "#FF9B1A", "strokeWidth": 6.5},
   "encoding": {"x": {"field": "t", "type": "quantitative", "scale": {"domain": [-1.13, 31.06], "nice": false, "zero": false}, "axis": null},
    "y": {"field": "s", "type": "quantitative", "scale": {"domain": [-0.14, 1.14], "nice": false, "zero": false}, "axis": null}}},
  {"data": {"name": "cens"}, "transform": [{"filter": "datum.r=='N'&&datum.c=='V'"}], "mark": {"type": "tick", "orient": "vertical", "size": 5, "thickness": 2, "color": "#000", "opacity": 1},
   "encoding": {"x": {"field": "t", "type": "quantitative", "scale": {"domain": [-1.13, 31.06], "nice": false, "zero": false}, "axis": null}, "y": {"field": "s", "type": "quantitative", "scale": {"domain": [-0.14, 1.14], "nice": false, "zero": false}, "axis": null}}},
  {"data": {"name": "pv"}, "transform": [{"filter": "datum.r=='N'&&datum.c=='V'"}], "mark": {"type": "text", "fontSize": 26, "align": "right", "baseline": "middle", "dx": -5, "color": "#000"},
   "encoding": {"x": {"datum": 30, "type": "quantitative", "scale": {"domain": [-1.13, 31.06], "nice": false, "zero": false}, "axis": null}, "y": {"datum": 1, "type": "quantitative", "scale": {"domain": [-0.14, 1.14], "nice": false, "zero": false}, "axis": null}, "text": {"field": "p"}}}
 ]},
{"width": 472, "height": 154, "data": {"name": "km"}, "resolve": {"axis": {"x": "independent", "y": "independent"}},
 "layer": [
  {"transform": [{"filter": "datum.r=='N'&&datum.c=='R'&&datum.g=='U'"}], "mark": {"type": "area", "interpolate": "step-after", "color": "#1A7AF0", "opacity": 0.08},
   "encoding": {"x": {"field": "t", "type": "quantitative", "scale": {"domain": [-1.13, 31.06], "nice": false, "zero": false}, "axis": {"values": [0, 10, 20, 30], "format": "d", "title": null}},
    "y": {"field": "lo", "type": "quantitative", "scale": {"domain": [-0.14, 1.14], "nice": false, "zero": false}, "axis": {"values": [0, 0.25, 0.5, 0.75, 1], "labelExpr": "datum.value == 0 ? '0' : datum.value == 1 ? '1' : slice(format(datum.value, '.2~f'), 1)", "title": null}},
    "y2": {"field": "hi"}}},
  {"transform": [{"filter": "datum.r=='N'&&datum.c=='R'&&datum.g=='D'"}], "mark": {"type": "area", "interpolate": "step-after", "color": "#FF9B1A", "opacity": 0.15},
   "encoding": {"x": {"field": "t", "type": "quantitative", "scale": {"domain": [-1.13, 31.06], "nice": false, "zero": false}, "axis": null},
    "y": {"field": "lo", "type": "quantitative", "scale": {"domain": [-0.14, 1.14], "nice": false, "zero": false}, "axis": null}, "y2": {"field": "hi"}}},
  {"transform": [{"filter": "datum.r=='N'&&datum.c=='R'&&datum.g=='U'"}], "mark": {"type": "line", "interpolate": "step-after", "color": "#1A7AF0", "strokeWidth": 6.5, "strokeDash": [22, 9]},
   "encoding": {"x": {"field": "t", "type": "quantitative", "scale": {"domain": [-1.13, 31.06], "nice": false, "zero": false}, "axis": null},
    "y": {"field": "s", "type": "quantitative", "scale": {"domain": [-0.14, 1.14], "nice": false, "zero": false}, "axis": null}}},
  {"transform": [{"filter": "datum.r=='N'&&datum.c=='R'&&datum.g=='D'"}], "mark": {"type": "line", "interpolate": "step-after", "color": "#FF9B1A", "strokeWidth": 6.5},
   "encoding": {"x": {"field": "t", "type": "quantitative", "scale": {"domain": [-1.13, 31.06], "nice": false, "zero": false}, "axis": null},
    "y": {"field": "s", "type": "quantitative", "scale": {"domain": [-0.14, 1.14], "nice": false, "zero": false}, "axis": null}}},
  {"data": {"name": "cens"}, "transform": [{"filter": "datum.r=='N'&&datum.c=='R'"}], "mark": {"type": "tick", "orient": "vertical", "size": 5, "thickness": 2, "color": "#000", "opacity": 1},
   "encoding": {"x": {"field": "t", "type": "quantitative", "scale": {"domain": [-1.13, 31.06], "nice": false, "zero": false}, "axis": null}, "y": {"field": "s", "type": "quantitative", "scale": {"domain": [-0.14, 1.14], "nice": false, "zero": false}, "axis": null}}},
  {"data": {"name": "pv"}, "transform": [{"filter": "datum.r=='N'&&datum.c=='R'"}], "mark": {"type": "text", "fontSize": 26, "align": "right", "baseline": "middle", "dx": -5, "color": "#000"},
   "encoding": {"x": {"datum": 30, "type": "quantitative", "scale": {"domain": [-1.13, 31.06], "nice": false, "zero": false}, "axis": null}, "y": {"datum": 1, "type": "quantitative", "scale": {"domain": [-0.14, 1.14], "nice": false, "zero": false}, "axis": null}, "text": {"field": "p"}}}
 ]},

{"width": 454, "height": 62, "data": {"name": "risk"}, "transform": [{"filter": "datum.r=='N'&&datum.c=='D'"}], "mark": {"type": "text", "fontSize": 26, "color": "#000"},
 "encoding": {"x": {"field": "t", "type": "quantitative", "scale": {"domain": [-1.13, 31.06], "nice": false, "zero": false}, "axis": null},
  "y": {"field": "g", "type": "nominal", "sort": ["Undetected", "Detected"], "scale": {"type": "point", "padding": 0.5}, "axis": {"domain": false, "ticks": false, "grid": false, "title": null, "labelFontSize": 16, "labelPadding": 5}},
  "text": {"field": "n"}}},
{"width": 471, "height": 62, "data": {"name": "risk"}, "transform": [{"filter": "datum.r=='N'&&datum.c=='V'"}], "mark": {"type": "text", "fontSize": 26, "color": "#000"},
 "encoding": {"x": {"field": "t", "type": "quantitative", "scale": {"domain": [-1.13, 31.06], "nice": false, "zero": false}, "axis": null},
  "y": {"field": "g", "type": "nominal", "sort": ["Undetected", "Detected"], "scale": {"type": "point", "padding": 0.5}, "axis": {"domain": false, "ticks": false, "grid": false, "title": null, "labelFontSize": 16, "labelPadding": 5}},
  "text": {"field": "n"}}},
{"width": 472, "height": 62, "data": {"name": "risk"}, "transform": [{"filter": "datum.r=='N'&&datum.c=='R'"}], "mark": {"type": "text", "fontSize": 26, "color": "#000"},
 "encoding": {"x": {"field": "t", "type": "quantitative", "scale": {"domain": [-1.13, 31.06], "nice": false, "zero": false}, "axis": null},
  "y": {"field": "g", "type": "nominal", "sort": ["Undetected", "Detected"], "scale": {"type": "point", "padding": 0.5}, "axis": {"domain": false, "ticks": false, "grid": false, "title": null, "labelFontSize": 16, "labelPadding": 5}},
  "text": {"field": "n"}}},

{"width": 454, "height": 127, "data": {"name": "km"}, "resolve": {"axis": {"x": "independent", "y": "independent"}},
 "layer": [
  {"transform": [{"filter": "datum.r=='R'&&datum.c=='D'&&datum.g=='U'"}], "mark": {"type": "area", "interpolate": "step-after", "color": "#1A7AF0", "opacity": 0.08},
   "encoding": {"x": {"field": "t", "type": "quantitative", "scale": {"domain": [-1.13, 31.06], "nice": false, "zero": false}, "axis": {"values": [0, 10, 20, 30], "format": "d", "title": "Observation time"}},
    "y": {"field": "lo", "type": "quantitative", "scale": {"domain": [-0.17, 1.18], "nice": false, "zero": false}, "axis": {"values": [0, 0.25, 0.5, 0.75, 1], "labelExpr": "datum.value == 0 ? '0' : datum.value == 1 ? '1' : slice(format(datum.value, '.2~f'), 1)", "title": "after resection"}},
    "y2": {"field": "hi"}}},
  {"transform": [{"filter": "datum.r=='R'&&datum.c=='D'&&datum.g=='D'"}], "mark": {"type": "area", "interpolate": "step-after", "color": "#FF9B1A", "opacity": 0.15},
   "encoding": {"x": {"field": "t", "type": "quantitative", "scale": {"domain": [-1.13, 31.06], "nice": false, "zero": false}, "axis": null},
    "y": {"field": "lo", "type": "quantitative", "scale": {"domain": [-0.17, 1.18], "nice": false, "zero": false}, "axis": null}, "y2": {"field": "hi"}}},
  {"transform": [{"filter": "datum.r=='R'&&datum.c=='D'&&datum.g=='U'"}], "mark": {"type": "line", "interpolate": "step-after", "color": "#1A7AF0", "strokeWidth": 6.5, "strokeDash": [22, 9]},
   "encoding": {"x": {"field": "t", "type": "quantitative", "scale": {"domain": [-1.13, 31.06], "nice": false, "zero": false}, "axis": null},
    "y": {"field": "s", "type": "quantitative", "scale": {"domain": [-0.17, 1.18], "nice": false, "zero": false}, "axis": null}}},
  {"transform": [{"filter": "datum.r=='R'&&datum.c=='D'&&datum.g=='D'"}], "mark": {"type": "line", "interpolate": "step-after", "color": "#FF9B1A", "strokeWidth": 6.5},
   "encoding": {"x": {"field": "t", "type": "quantitative", "scale": {"domain": [-1.13, 31.06], "nice": false, "zero": false}, "axis": null},
    "y": {"field": "s", "type": "quantitative", "scale": {"domain": [-0.17, 1.18], "nice": false, "zero": false}, "axis": null}}},
  {"data": {"name": "cens"}, "transform": [{"filter": "datum.r=='R'&&datum.c=='D'"}], "mark": {"type": "tick", "orient": "vertical", "size": 5, "thickness": 2, "color": "#000", "opacity": 1},
   "encoding": {"x": {"field": "t", "type": "quantitative", "scale": {"domain": [-1.13, 31.06], "nice": false, "zero": false}, "axis": null}, "y": {"field": "s", "type": "quantitative", "scale": {"domain": [-0.17, 1.18], "nice": false, "zero": false}, "axis": null}}},
  {"data": {"name": "pv"}, "transform": [{"filter": "datum.r=='R'&&datum.c=='D'"}], "mark": {"type": "text", "fontSize": 26, "align": "right", "baseline": "middle", "dx": -3, "color": "#000"},
   "encoding": {"x": {"datum": 30, "type": "quantitative", "scale": {"domain": [-1.13, 31.06], "nice": false, "zero": false}, "axis": null}, "y": {"datum": 1, "type": "quantitative", "scale": {"domain": [-0.17, 1.18], "nice": false, "zero": false}, "axis": null}, "text": {"field": "p"}}}
 ]},
{"width": 471, "height": 127, "data": {"name": "km"}, "resolve": {"axis": {"x": "independent", "y": "independent"}},
 "layer": [
  {"transform": [{"filter": "datum.r=='R'&&datum.c=='V'&&datum.g=='U'"}], "mark": {"type": "area", "interpolate": "step-after", "color": "#1A7AF0", "opacity": 0.08},
   "encoding": {"x": {"field": "t", "type": "quantitative", "scale": {"domain": [-1.13, 31.06], "nice": false, "zero": false}, "axis": {"values": [0, 10, 20, 30], "format": "d", "title": "Observation time"}},
    "y": {"field": "lo", "type": "quantitative", "scale": {"domain": [-0.17, 1.18], "nice": false, "zero": false}, "axis": {"values": [0, 0.25, 0.5, 0.75, 1], "labelExpr": "datum.value == 0 ? '0' : datum.value == 1 ? '1' : slice(format(datum.value, '.2~f'), 1)", "title": null}},
    "y2": {"field": "hi"}}},
  {"transform": [{"filter": "datum.r=='R'&&datum.c=='V'&&datum.g=='D'"}], "mark": {"type": "area", "interpolate": "step-after", "color": "#FF9B1A", "opacity": 0.15},
   "encoding": {"x": {"field": "t", "type": "quantitative", "scale": {"domain": [-1.13, 31.06], "nice": false, "zero": false}, "axis": null},
    "y": {"field": "lo", "type": "quantitative", "scale": {"domain": [-0.17, 1.18], "nice": false, "zero": false}, "axis": null}, "y2": {"field": "hi"}}},
  {"transform": [{"filter": "datum.r=='R'&&datum.c=='V'&&datum.g=='U'"}], "mark": {"type": "line", "interpolate": "step-after", "color": "#1A7AF0", "strokeWidth": 6.5, "strokeDash": [22, 9]},
   "encoding": {"x": {"field": "t", "type": "quantitative", "scale": {"domain": [-1.13, 31.06], "nice": false, "zero": false}, "axis": null},
    "y": {"field": "s", "type": "quantitative", "scale": {"domain": [-0.17, 1.18], "nice": false, "zero": false}, "axis": null}}},
  {"transform": [{"filter": "datum.r=='R'&&datum.c=='V'&&datum.g=='D'"}], "mark": {"type": "line", "interpolate": "step-after", "color": "#FF9B1A", "strokeWidth": 6.5},
   "encoding": {"x": {"field": "t", "type": "quantitative", "scale": {"domain": [-1.13, 31.06], "nice": false, "zero": false}, "axis": null},
    "y": {"field": "s", "type": "quantitative", "scale": {"domain": [-0.17, 1.18], "nice": false, "zero": false}, "axis": null}}},
  {"data": {"name": "cens"}, "transform": [{"filter": "datum.r=='R'&&datum.c=='V'"}], "mark": {"type": "tick", "orient": "vertical", "size": 5, "thickness": 2, "color": "#000", "opacity": 1},
   "encoding": {"x": {"field": "t", "type": "quantitative", "scale": {"domain": [-1.13, 31.06], "nice": false, "zero": false}, "axis": null}, "y": {"field": "s", "type": "quantitative", "scale": {"domain": [-0.17, 1.18], "nice": false, "zero": false}, "axis": null}}},
  {"data": {"name": "pv"}, "transform": [{"filter": "datum.r=='R'&&datum.c=='V'"}], "mark": {"type": "text", "fontSize": 26, "align": "right", "baseline": "middle", "dx": -5, "color": "#000"},
   "encoding": {"x": {"datum": 30, "type": "quantitative", "scale": {"domain": [-1.13, 31.06], "nice": false, "zero": false}, "axis": null}, "y": {"datum": 1, "type": "quantitative", "scale": {"domain": [-0.17, 1.18], "nice": false, "zero": false}, "axis": null}, "text": {"field": "p"}}}
 ]},
{"width": 472, "height": 127, "data": {"name": "km"}, "resolve": {"axis": {"x": "independent", "y": "independent"}},
 "layer": [
  {"transform": [{"filter": "datum.r=='R'&&datum.c=='R'&&datum.g=='U'"}], "mark": {"type": "area", "interpolate": "step-after", "color": "#1A7AF0", "opacity": 0.08},
   "encoding": {"x": {"field": "t", "type": "quantitative", "scale": {"domain": [-1.13, 31.06], "nice": false, "zero": false}, "axis": {"values": [0, 10, 20, 30], "format": "d", "title": "Observation time"}},
    "y": {"field": "lo", "type": "quantitative", "scale": {"domain": [-0.17, 1.18], "nice": false, "zero": false}, "axis": {"values": [0, 0.25, 0.5, 0.75, 1], "labelExpr": "datum.value == 0 ? '0' : datum.value == 1 ? '1' : slice(format(datum.value, '.2~f'), 1)", "title": null}},
    "y2": {"field": "hi"}}},
  {"transform": [{"filter": "datum.r=='R'&&datum.c=='R'&&datum.g=='D'"}], "mark": {"type": "area", "interpolate": "step-after", "color": "#FF9B1A", "opacity": 0.15},
   "encoding": {"x": {"field": "t", "type": "quantitative", "scale": {"domain": [-1.13, 31.06], "nice": false, "zero": false}, "axis": null},
    "y": {"field": "lo", "type": "quantitative", "scale": {"domain": [-0.17, 1.18], "nice": false, "zero": false}, "axis": null}, "y2": {"field": "hi"}}},
  {"transform": [{"filter": "datum.r=='R'&&datum.c=='R'&&datum.g=='U'"}], "mark": {"type": "line", "interpolate": "step-after", "color": "#1A7AF0", "strokeWidth": 6.5, "strokeDash": [22, 9]},
   "encoding": {"x": {"field": "t", "type": "quantitative", "scale": {"domain": [-1.13, 31.06], "nice": false, "zero": false}, "axis": null},
    "y": {"field": "s", "type": "quantitative", "scale": {"domain": [-0.17, 1.18], "nice": false, "zero": false}, "axis": null}}},
  {"transform": [{"filter": "datum.r=='R'&&datum.c=='R'&&datum.g=='D'"}], "mark": {"type": "line", "interpolate": "step-after", "color": "#FF9B1A", "strokeWidth": 6.5},
   "encoding": {"x": {"field": "t", "type": "quantitative", "scale": {"domain": [-1.13, 31.06], "nice": false, "zero": false}, "axis": null},
    "y": {"field": "s", "type": "quantitative", "scale": {"domain": [-0.17, 1.18], "nice": false, "zero": false}, "axis": null}}},
  {"data": {"name": "cens"}, "transform": [{"filter": "datum.r=='R'&&datum.c=='R'"}], "mark": {"type": "tick", "orient": "vertical", "size": 5, "thickness": 2, "color": "#000", "opacity": 1},
   "encoding": {"x": {"field": "t", "type": "quantitative", "scale": {"domain": [-1.13, 31.06], "nice": false, "zero": false}, "axis": null}, "y": {"field": "s", "type": "quantitative", "scale": {"domain": [-0.17, 1.18], "nice": false, "zero": false}, "axis": null}}},
  {"data": {"name": "pv"}, "transform": [{"filter": "datum.r=='R'&&datum.c=='R'"}], "mark": {"type": "text", "fontSize": 26, "align": "right", "baseline": "middle", "dx": -5, "color": "#000"},
   "encoding": {"x": {"datum": 30, "type": "quantitative", "scale": {"domain": [-1.13, 31.06], "nice": false, "zero": false}, "axis": null}, "y": {"datum": 1, "type": "quantitative", "scale": {"domain": [-0.17, 1.18], "nice": false, "zero": false}, "axis": null}, "text": {"field": "p"}}}
 ]},

{"width": 454, "height": 87, "data": {"name": "risk"}, "transform": [{"filter": "datum.r=='R'&&datum.c=='D'"}], "mark": {"type": "text", "fontSize": 26, "color": "#000"},
 "encoding": {"x": {"field": "t", "type": "quantitative", "scale": {"domain": [-1.13, 31.06], "nice": false, "zero": false}, "axis": null},
  "y": {"field": "g", "type": "nominal", "sort": ["Undetected", "Detected"], "scale": {"type": "point", "padding": 0.95, "align": 0.74}, "axis": {"domain": false, "ticks": false, "grid": false, "title": null, "labelFontSize": 16, "labelPadding": 5}},
  "text": {"field": "n"}}},
{"width": 471, "height": 87, "data": {"name": "risk"}, "transform": [{"filter": "datum.r=='R'&&datum.c=='V'"}], "mark": {"type": "text", "fontSize": 26, "color": "#000"},
 "encoding": {"x": {"field": "t", "type": "quantitative", "scale": {"domain": [-1.13, 31.06], "nice": false, "zero": false}, "axis": null},
  "y": {"field": "g", "type": "nominal", "sort": ["Undetected", "Detected"], "scale": {"type": "point", "padding": 0.95, "align": 0.74}, "axis": {"domain": false, "ticks": false, "grid": false, "title": null, "labelFontSize": 16, "labelPadding": 5}},
  "text": {"field": "n"}}},
{"width": 472, "height": 87, "data": {"name": "risk"}, "transform": [{"filter": "datum.r=='R'&&datum.c=='R'"}], "mark": {"type": "text", "fontSize": 26, "color": "#000"},
 "encoding": {"x": {"field": "t", "type": "quantitative", "scale": {"domain": [-1.13, 31.06], "nice": false, "zero": false}, "axis": null},
  "y": {"field": "g", "type": "nominal", "sort": ["Undetected", "Detected"], "scale": {"type": "point", "padding": 0.95, "align": 0.74}, "axis": {"domain": false, "ticks": false, "grid": false, "title": null, "labelFontSize": 16, "labelPadding": 5}},
  "text": {"field": "n"}}}
]
}
